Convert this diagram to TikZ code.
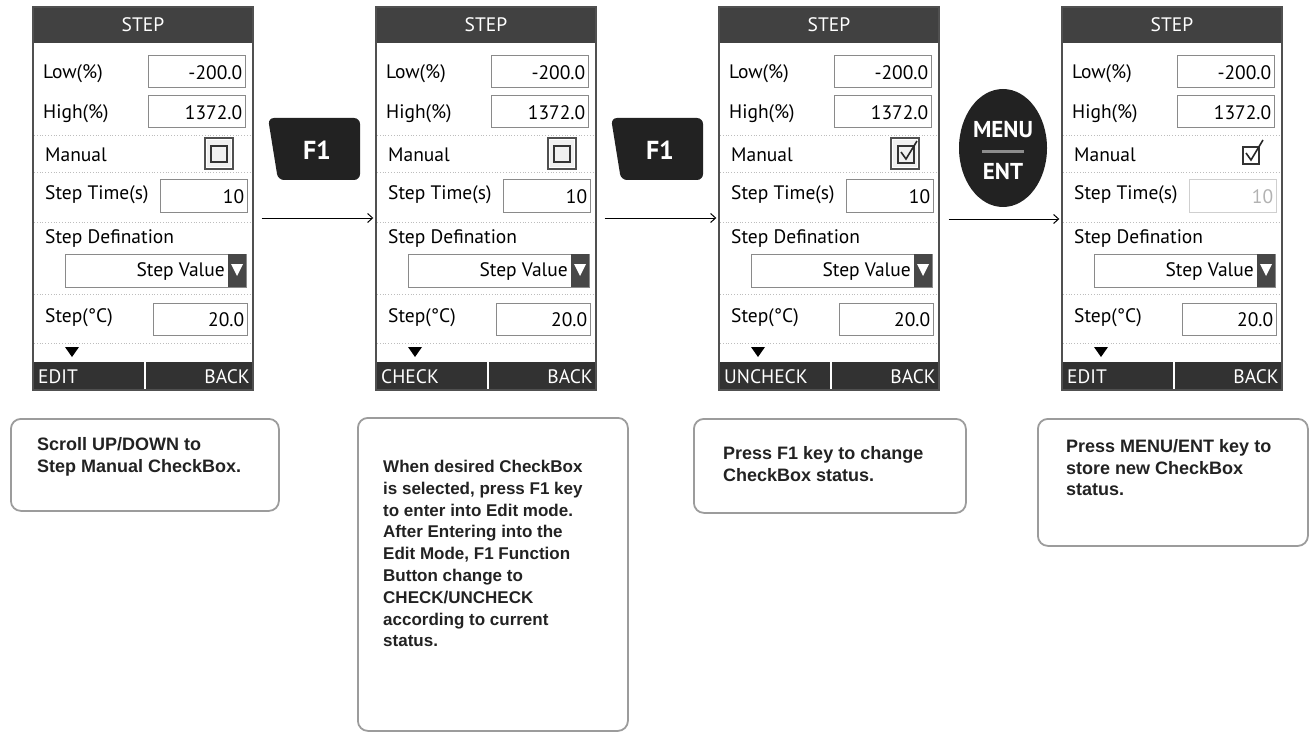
\documentclass[tikz,border=0pt]{standalone}
\usepackage{fontspec}
\setmainfont{Liberation Sans}
\newfontfamily\scr{PT Sans}
\usetikzlibrary{arrows.meta,shapes.geometric}

\definecolor{hdrgray}{HTML}{414141}
\definecolor{ftrgray}{HTML}{323232}
\definecolor{boxgray}{HTML}{8A8A8A}
\definecolor{faintgray}{HTML}{CFCFCF}
\definecolor{sepgray}{HTML}{BDBDBD}
\definecolor{keyfill}{HTML}{222222}
\definecolor{notegray}{HTML}{9C9C9C}
\definecolor{notetext}{HTML}{222222}
\definecolor{framegray}{HTML}{505050}

\tikzset{
  scrlbl/.style={anchor=west, inner sep=0, font=\scr\fontsize{19.5}{22}\selectfont},
  scrval/.style={anchor=east, inner sep=0, font=\scr\fontsize{19.5}{22}\selectfont},
  valbox/.style={draw=boxgray, line width=0.8, inner sep=0},
  sepline/.style={draw=sepgray, dotted, line width=0.8},
  screenframe/.style={draw=framegray, line width=1.4, minimum width=220pt, minimum height=383pt, inner sep=0},
  hdrtxt/.style={text=white, inner sep=0, font=\scr\fontsize{19.5}{22}\selectfont},
  ftrtxt/.style={text=white, inner sep=0, font=\scr\fontsize{19.5}{22}\selectfont},
  keytxt/.style={text=white, inner sep=0, font=\scr\bfseries\fontsize{26}{28}\selectfont},
  menutxt/.style={text=white, inner sep=0, font=\scr\bfseries\fontsize{23}{26}\selectfont},
  arr/.style={draw=black, line width=1, -{Straight Barb[length=5pt,width=9pt]}},
  notebox/.style={draw=notegray, line width=1.8, rounded corners=10pt, inner sep=0, anchor=north west},
  notetxt/.style={anchor=north west, inner sep=0, align=left, text=notetext,
     font=\bfseries\fontsize{18}{21.8}\selectfont},
  notetxtsmall/.style={notetxt, font=\bfseries\fontsize{17}{21.8}\selectfont},
}

% #1 x offset, #2 name, #3 footer label, #4 checkbox mode, #5 time box colour, #6 time value colour
\newcommand\drawscreen[6]{%
\begin{scope}[shift={(#1,0)}]
  \fill[hdrgray] (0,7) rectangle (220,43);
  \node[hdrtxt] (#2-title) at (110,25) {STEP};
  % Low
  \node[scrlbl] (#2-low) at (10,74) {Low(\%)};
  \node[valbox, minimum width=97pt, minimum height=32pt] (#2-lowbox) at (163.5,71) {};
  \node[scrval] at ([xshift=-3pt,yshift=-2pt]#2-lowbox.east) {-200.0};
  % High
  \node[scrlbl] (#2-high) at (10,114) {High(\%)};
  \node[valbox, minimum width=97pt, minimum height=32pt] (#2-highbox) at (163.5,111) {};
  \node[scrval] at ([xshift=-3pt,yshift=-2pt]#2-highbox.east) {1372.0};
  \draw[sepline] (1,135) -- (219,135);
  % Manual
  \node[scrlbl] (#2-man) at (12,155) {Manual};
  \ifcase#4
    \draw[draw=framegray, line width=2] (172,138) rectangle (200,169);
    \fill[black!6] (174,140) rectangle (198,167);
    \draw[draw=black!80, line width=1.6] (178,146) rectangle (194,162);
  \or
    \draw[draw=framegray, line width=2] (172,138) rectangle (200,169);
    \fill[black!6] (174,140) rectangle (198,167);
    \draw[draw=black!80, line width=1.6] (179,146) rectangle (195,163);
    \draw[black!85, line width=1.6] (182,152) -- (187,159) -- (198,141);
  \or
    \draw[draw=black!80, line width=1.6] (181,147) rectangle (197,164);
    \draw[black!85, line width=1.6] (184,153) -- (189,160) -- (201,140);
  \fi
  \draw[sepline] (1,172) -- (219,172);
  % Step time
  \node[scrlbl] (#2-time) at (12,195) {Step Time(s)};
  \node[valbox, draw=#5, minimum width=87pt, minimum height=33pt] (#2-timebox) at (170.5,195.5) {};
  \node[scrval, text=#6] at ([xshift=-3pt,yshift=-1pt]#2-timebox.east) {10};
  \draw[sepline] (1,222) -- (219,222);
  % Step definition
  \node[scrlbl] (#2-def) at (12,239) {Step Defination};
  \node[valbox, minimum width=181pt, minimum height=33pt] (#2-drop) at (122.5,270.5) {};
  \fill[black!72] (195,254) rectangle (213,287);
  \fill[white] (198,264) -- (210,264) -- (204,276) -- cycle;
  \node[scrval] at (192,272) {Step Value};
  \draw[sepline] (1,294) -- (219,294);
  % Step C
  \node[scrlbl] (#2-stepc) at (12,318) {Step(°C)};
  \node[valbox, minimum width=94pt, minimum height=32pt] (#2-stepbox) at (167,319) {};
  \node[scrval] at ([xshift=-3pt,yshift=-1pt]#2-stepbox.east) {20.0};
  \draw[sepline] (1,343) -- (219,343);
  \fill[black] (32,347) -- (46,347) -- (39,357) -- cycle;
  % footer
  \fill[ftrgray] (0,362) rectangle (220,390);
  \draw[white, line width=1.5] (112,362) -- (112,390);
  \node[ftrtxt, anchor=west] (#2-f1) at (5,377) {#3};
  \node[ftrtxt, anchor=east] (#2-f2) at (217,377) {BACK};
  \node[screenframe] (#2) at (110,198.5) {};
\end{scope}}

\begin{document}
\begin{tikzpicture}[x=1pt, y=-1pt]
\useasboundingbox (0,0) rectangle (1315,733);

\drawscreen{33}{s1}{EDIT}{0}{boxgray}{black}
\drawscreen{376}{s2}{CHECK}{0}{boxgray}{black}
\drawscreen{719}{s3}{UNCHECK}{1}{boxgray}{black}
\drawscreen{1062}{s4}{EDIT}{2}{faintgray}{black!30}

% F1 keys
\fill[keyfill, rounded corners=6pt] (268,118) -- (360,118) -- (360,180) -- (278,180) -- cycle;
\node[keytxt] (k1) at (317,150) {F1};
\fill[keyfill, rounded corners=6pt] (611,118) -- (703,118) -- (703,180) -- (621,180) -- cycle;
\node[keytxt] (k2) at (660,150) {F1};

% MENU / ENT key
\node[ellipse, fill=keyfill, minimum width=88pt, minimum height=118pt, inner sep=0] (k3) at (1003,148) {};
\node[menutxt] (k3m) at (1003,130) {MENU};
\draw[black!45, line width=3] (982,152) -- (1024,152);
\node[menutxt] (k3e) at (1003,171) {ENT};

% arrows
\draw[arr, shorten <=8pt, shorten >=2pt] ([yshift=-19.5pt]s1.east) -- ([yshift=-19.5pt]s2.west);
\draw[arr, shorten <=8pt, shorten >=2pt] ([yshift=-19.5pt]s2.east) -- ([yshift=-19.5pt]s3.west);
\draw[arr, shorten <=9pt, shorten >=2pt] ([yshift=-20.5pt]s3.east) -- ([yshift=-20.5pt]s4.west);

% notes
\node[notebox, minimum width=268pt, minimum height=92pt] (n1) at (10,418) {};
\node[notetxt] (t1) at (37,437) {Scroll UP/DOWN to\\Step Manual CheckBox.};

\node[notebox, minimum width=270pt, minimum height=313pt] (n2) at (357,417) {};
\node[notetxtsmall] (t2) at (383,460) {When desired CheckBox\\is selected, press F1 key\\to enter into Edit mode.\\After Entering into the\\Edit Mode, F1 Function\\Button change to\\CHECK/UNCHECK\\according to current\\status.};

\node[notebox, minimum width=272pt, minimum height=94pt] (n3) at (693,418) {};
\node[notetxt] (t3) at (723,446) {Press F1 key to change\\CheckBox status.};

\node[notebox, minimum width=270pt, minimum height=127pt] (n4) at (1037,418) {};
\node[notetxt] (t4) at (1066,439) {Press MENU/ENT key to\\store new CheckBox\\status.};
\end{tikzpicture}
\end{document}
